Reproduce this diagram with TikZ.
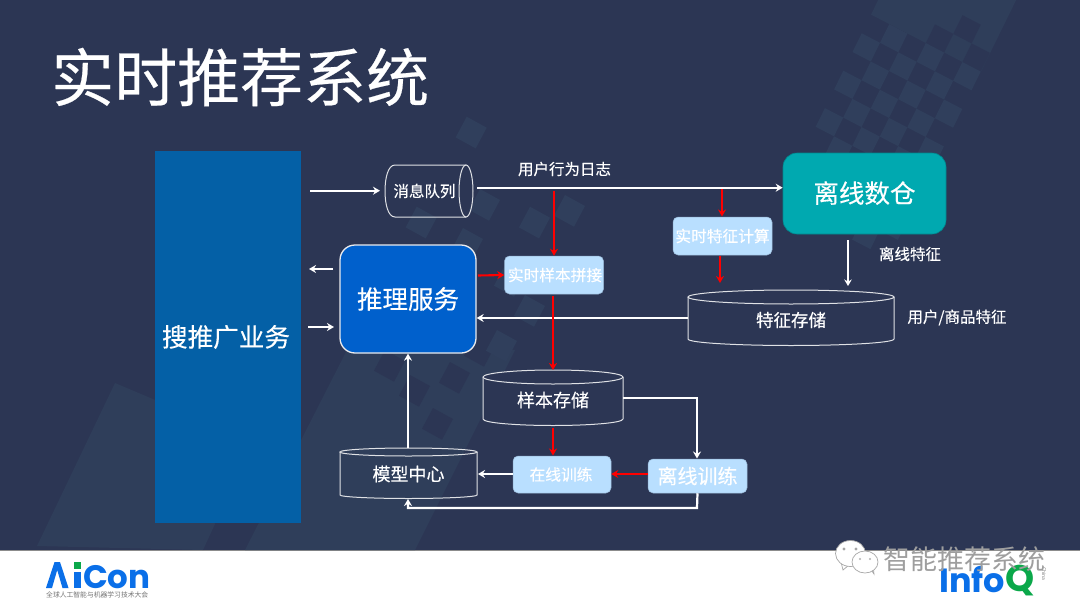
\documentclass[tikz,border=0pt]{standalone}
\usepackage{fontspec}
\setmainfont{Noto Sans CJK SC}[FakeBold=0.35]
\newfontfamily\plainfont{Noto Sans CJK SC}
\newfontfamily\logofont{Poppins}
\usetikzlibrary{arrows.meta}
\definecolor{bgc}{HTML}{2C3654}
\definecolor{bandc}{HTML}{2F3E5A}
\definecolor{chk}{HTML}{303F5C}
\definecolor{bizc}{HTML}{0460A6}
\definecolor{infc}{HTML}{0060CC}
\definecolor{tealc}{HTML}{00A9B0}
\definecolor{lightc}{HTML}{B9DFFF}
\definecolor{logoblue}{HTML}{0A6FE8}
\definecolor{logogreen}{HTML}{0BA84A}
\tikzset{
 x=1pt,y=-1pt,
 wline/.style={draw=white,line width=2.2pt,-{Stealth[length=7pt,width=8pt]}},
 wthin/.style={draw=white,line width=1.7pt,-{Stealth[length=6.5pt,width=7.5pt]}},
 rline/.style={draw=red,line width=2.1pt,-{Stealth[length=7pt,width=8pt]}},
 lbl/.style={text=white,font=\fontsize{15.5}{18}\selectfont,inner sep=0pt},
 dbl/.style={text=white,font=\fontsize{18}{20}\selectfont,inner sep=0pt},
 lightbox/.style={fill=lightc,rounded corners=5pt,text=white,inner sep=0pt,font=\fontsize{15.7}{18}\selectfont,draw=lightc!75!bgc,line width=.5pt},
 cyl/.style={draw=white!85!bgc,line width=1pt},
 bub/.style={fill=white,draw=black!35,line width=.7pt},
}
% one cell of a lattice: lattice edges a and b in px
\newcommand{\cellat}[3]{\fill[#3] (#1,#2) -- ++(20,11) -- ++(-11,20.7) -- ++(-20,-11) -- cycle;}
\newcommand{\rcell}[3]{%
 \pgfmathsetmacro{\px}{861.7+18.3*#1-9.2*#2}%
 \pgfmathsetmacro{\py}{33.3+9.5*#1+18.7*#2}%
 \fill[#3] (\px,\py) -- ++(18.3,9.5) -- ++(-9.2,18.7) -- ++(-18.3,-9.5) -- cycle;}
\begin{document}
\begin{tikzpicture}
\useasboundingbox (0,0) rectangle (1080,608);
\fill[white] (0,0) rectangle (1080,608);
\fill[bgc] (0,0) rectangle (1080,550);
\fill[black!45!white] (0,549.5) rectangle (1080,550.5);
% left band
\fill[bandc] (115,383) -- (37,546) -- (203,550) -- (215,524) -- (160,402) -- cycle;
% centre band with its checker
\fill[bandc] (245,550) -- (347,350) -- (360,335) -- (515,350) -- (415,550) -- cycle;
\foreach \a/\b in {433/408,410/375,450/362,385/350,475/335}{\cellat{\a}{\b}{bgc}}
\foreach \a/\b in {466.7/116.7,565/195,530/206.7,416.7/206.7,463/228,480/189,497/330,525/295,440/250,505/265}{\cellat{\a}{\b}{chk}}
% right band with its checker
\fill[bandc] (871,14.6) -- (981,71.6) -- (1027,-22) -- (917,-79) -- cycle;
\rcell{3}{-2}{bgc}\rcell{4}{-3}{bgc}\rcell{5}{-2}{bgc}
\rcell{1}{-1}{chk}\rcell{3}{-1}{chk}\rcell{5}{-1}{chk}
\foreach \i/\j in {0/0,2/0,4/0,1/1,3/1,5/1,0/2,2/2,4/2,1/3,3/3,5/3,0/4,2/4,4/4,1/5,3/5,5/5,4/6,4/8,5/7}{\rcell{\i}{\j}{chk}}
% title
\node[text=white,font=\fontsize{63}{70}\selectfont,inner sep=0pt,anchor=west] (title) at (51,77) {实时推荐系统};
% business
\node[fill=bizc,minimum width=146pt,minimum height=372pt,inner sep=0pt,text=white,font=\fontsize{25.6}{28}\selectfont] (biz) at (228,337) {\hspace*{-4pt}搜推广业务};
% queue
\draw[cyl] (466,165) -- (395,165) .. controls (388,165) and (385,178) .. (385,191) .. controls (385,204) and (388,217) .. (395,217) -- (466,217);
\draw[cyl] (466,191) ellipse[x radius=7,y radius=26];
\node[lbl] (mq) at (424.5,191) {消息队列};
\coordinate (mqin) at (310,190.7);
\coordinate (mqa) at (380,190.7);
\coordinate (mqout) at (477,187.7);
\node[lbl] (ulog) at (564.5,169) {用户行为日志};
% warehouse
\node[fill=tealc,draw=tealc!80!black,line width=.6pt,rounded corners=14pt,minimum width=163pt,minimum height=81pt,inner sep=0pt,text=white,font=\fontsize{25.5}{28}\selectfont] (dw) at (864.5,193.5) {\raisebox{3pt}{离线数仓}};
\node[lbl] (offlab) at (910,254) {离线特征};
\node[lightbox,minimum width=99pt,minimum height=38pt] (rtf) at (722.5,236) {实时特征计算};
% inference
\node[fill=infc,draw=white!90!bgc,line width=1.3pt,rounded corners=15pt,minimum width=136pt,minimum height=108pt,inner sep=0pt,text=white,font=\fontsize{25.5}{28}\selectfont] (inf) at (408,299) {推理服务};
\node[lightbox,minimum width=99pt,minimum height=38pt] (rts) at (554,275) {\hspace*{2pt}实时样本拼接};
% feature store
\draw[cyl,fill=bgc] (688,297) -- (688,339) .. controls (688,343) and (740,345.5) .. (791,345.5) .. controls (842,345.5) and (894,343) .. (894,339) -- (894,297);
\draw[cyl,fill=bgc] (791,297) ellipse[x radius=103,y radius=7];
\coordinate (fsw) at (688,318);
\node[dbl,font=\fontsize{17.5}{20}\selectfont] (fs) at (791,320) {特征存储};
\node[lbl] (ufeat) at (957,317.5) {用户/商品特征};
% sample store
\draw[cyl,fill=bgc] (483,377) -- (483,419) .. controls (483,423) and (518,425.5) .. (553,425.5) .. controls (588,425.5) and (623,423) .. (623,419) -- (623,377);
\draw[cyl,fill=bgc] (553,377) ellipse[x radius=70,y radius=7];
\coordinate (sse) at (623,398);
\node[dbl] (ss) at (553,400) {样本存储};
% model centre
\draw[cyl] (340,452) -- (340,495) .. controls (340,497) and (374,498.5) .. (408.5,498.5) .. controls (443,498.5) and (477,497) .. (477,495) -- (477,452);
\draw[cyl] (408.5,452) ellipse[x radius=68.5,y radius=4];
\node[dbl] (mc) at (408.5,474) {模型中心};
\coordinate (mcn) at (408,448);
\coordinate (mce) at (478,474);
\coordinate (mcs) at (408,499);
% training
\node[lightbox,minimum width=98pt,minimum height=37pt] (ont) at (562,474.5) {\hspace*{-2pt}在线训练};
\node[lightbox,minimum width=99pt,minimum height=34pt,font=\fontsize{20}{22}\selectfont] (oft) at (697.5,476) {离线训练};
% connectors
\coordinate (bizoutA) at (333,269);
\coordinate (bizoutB) at (309,269);
\coordinate (bizinA) at (308,327);
\coordinate (bizinB) at (334,327);
\draw[wline] (mqin) -- (mqa);
\draw[wline] (mqout) -- (dw.west |- mqout);
\draw[wline] (bizoutA) -- (bizoutB);
\draw[wline] (bizinA) -- (bizinB);
\draw[rline] (554,191) -- (rts.north);
\draw[rline] (722,189) -- (722,216.5);
\draw[rline] (478,275.5) -- (rts.west);
\draw[rline] (720,256) -- (720,283);
\draw[wthin] (848,240) -- (848,286);
\draw[wline] (fsw) -- (inf.east |- fsw);
\draw[rline] (553,296) -- (553,370);
\draw[rline] (553,428) -- (553,455.5);
\draw[wline] (sse) -- (697,398) -- (697,458.5);
\draw[rline] (oft.west |- 0,474) -- (ont.east |- 0,474);
\draw[wline] (ont.west |- 0,474) -- (mce);
\draw[wline] (mcn) -- (inf.south -| mcn);
\draw[wline] (oft.south) -- (697,508) -- (408,508) -- (mcs);
% AiCon logo
\fill[logoblue] (46,588) -- (54.5,562) -- (60,562) -- (68.5,588) -- (62.5,588) -- (57.2,570) -- (52,588) -- cycle;
\fill[logogreen] (74,562) rectangle (81,568.5);
\fill[logoblue] (74,571.5) rectangle (81,588);
\node[text=logoblue,font=\logofont\bfseries\fontsize{32.5}{34}\selectfont,inner sep=0pt,anchor=base west] (aicon) at (83,588) {Con};
\node[text=black!55,font=\plainfont\fontsize{6.8}{7}\selectfont,inner sep=0pt,anchor=west] (aisub) at (46,595) {全球人工智能与机器学习技术大会};
% InfoQ logo
\node[text=logoblue,font=\logofont\bfseries\fontsize{33.5}{35}\selectfont,inner sep=0pt,anchor=base west] (info) at (939,592) {Info};
\node[text=logogreen,font=\logofont\bfseries\fontsize{37}{38}\selectfont,inner sep=0pt,anchor=base west] (q) at (1005,591) {Q};
\node[text=black!50,font=\plainfont\fontsize{5}{6}\selectfont,inner sep=0pt,rotate=-90] (china) at (1044,574) {China};
% watermark
\fill[bub] (841,562) -- (843,570) -- (849,565) -- cycle;
\draw[bub] (850.5,553.5) ellipse[x radius=15,y radius=13];
\fill[black!35] (844,549) circle[radius=1.6] (856,549) circle[radius=1.6];
\fill[bub] (870,568) -- (874,574) -- (873,565) -- cycle;
\draw[bub] (865,562) ellipse[x radius=13,y radius=11];
\fill[black!30] (860,559) circle[radius=1.2] (870,559) circle[radius=1.2];
\node[text=black!38,font=\plainfont\fontsize{27}{29}\selectfont,inner sep=0pt,anchor=west] (wm) at (883,559) {智能推荐系统};
\end{tikzpicture}
\end{document}
